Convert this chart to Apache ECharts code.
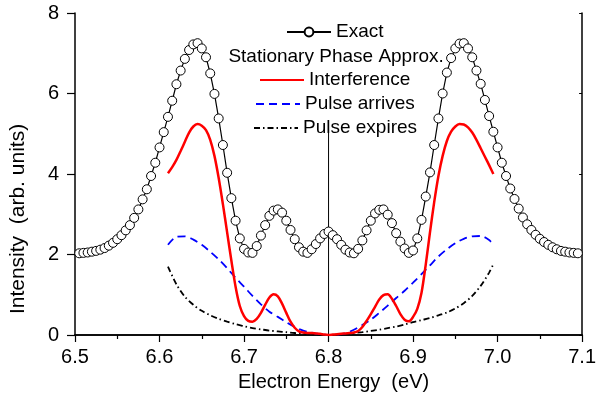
<!DOCTYPE html>
<html><head><meta charset="utf-8">
<script src="https://cdn.jsdelivr.net/npm/echarts@6/dist/echarts.min.js"></script>
<style>html,body{margin:0;padding:0;background:#fff}#c{width:599px;height:405px}</style>
</head><body><div id="c"></div>
<script>
// ---- data ----
const exactEnergy = [
6.505,6.510,6.515,6.520,6.525,6.530,6.535,6.540,6.545,6.550,
6.555,6.560,6.565,6.570,6.575,6.580,6.585,6.590,6.595,6.600,
6.605,6.610,6.615,6.620,6.625,6.630,6.635,6.640,6.645,
6.650,6.655,6.660,6.665,6.670,6.675,6.680,6.685,6.690,6.695,
6.700,6.705,6.710,6.715,6.720,6.725,6.730,6.735,6.740,6.745,
6.750,6.755,6.760,6.765,6.770,6.775,6.780,6.785,6.790,6.795,
6.800,6.805,6.810,6.815,6.820,6.825,6.830,6.835,6.840,6.845,
6.850,6.855,6.860,6.865,6.870,6.875,6.880,6.885,6.890,6.895,
6.900,6.905,6.910,6.915,6.920,6.925,6.930,6.935,6.940,6.945,
6.950,6.955,6.960,6.965,6.970,6.975,6.980,6.985,6.990,6.995,
7.000,7.005,7.010,7.015,7.020,7.025,7.030,7.035,7.040,7.045,
7.050,7.055,7.060,7.065,7.070,7.075,7.080,7.085,7.090,7.095];
const exactIntensity = [
2.03,2.04,2.05,2.07,2.09,2.12,2.16,2.22,2.29,2.38,
2.48,2.60,2.73,2.91,3.12,3.37,3.62,3.95,4.28,4.66,
5.04,5.42,5.82,6.23,6.57,6.86,7.08,7.22,7.25,
7.12,6.90,6.50,5.99,5.38,4.72,4.03,3.40,2.84,2.40,
2.14,2.05,2.04,2.21,2.47,2.73,2.96,3.09,3.12,3.04,
2.84,2.61,2.38,2.18,2.07,2.04,2.13,2.26,2.40,2.51,
2.57,2.48,2.38,2.24,2.12,2.05,2.03,2.14,2.35,2.60,
2.84,3.02,3.11,3.12,2.99,2.78,2.53,2.32,2.15,2.04,
2.10,2.40,2.86,3.44,4.04,4.72,5.38,6.00,6.52,6.88,
7.12,7.24,7.25,7.12,6.90,6.57,6.24,5.84,5.44,5.05,
4.66,4.28,3.95,3.64,3.38,3.14,2.92,2.75,2.61,2.49,
2.39,2.31,2.24,2.18,2.13,2.09,2.07,2.05,2.04,2.03];

const interfEnergy = [
6.610,6.615,6.620,6.625,6.630,6.635,6.640,6.645,6.650,6.655,
6.660,6.665,6.670,6.675,6.680,6.685,6.690,6.695,6.700,6.705,
6.710,6.715,6.720,6.725,6.730,6.735,6.740,6.745,6.750,6.755,
6.760,6.765,6.770,6.775,6.780,6.785,6.790,6.795,6.800,6.805,
6.810,6.815,6.820,6.825,6.830,6.835,6.840,6.845,6.850,6.855,
6.860,6.865,6.870,6.875,6.880,6.885,6.890,6.895,6.900,6.905,
6.910,6.915,6.920,6.925,6.930,6.935,6.940,6.945,6.950,6.955,
6.960,6.965,6.970,6.975,6.980,6.985,6.990,6.995];
const interfIntensity = [
4.02,4.17,4.35,4.57,4.80,5.03,5.18,5.24,5.20,5.09,
4.85,4.45,3.90,3.25,2.55,1.85,1.20,0.72,0.47,0.35,
0.33,0.40,0.55,0.75,0.93,1.01,0.96,0.78,0.55,0.33,
0.18,0.09,0.06,0.05,0.05,0.04,0.03,0.01,0.00,0.01,
0.02,0.03,0.04,0.05,0.06,0.10,0.20,0.35,0.52,0.70,
0.88,0.99,1.01,0.90,0.72,0.52,0.38,0.34,0.45,0.65,
1.05,1.75,2.55,3.30,3.95,4.45,4.82,5.05,5.18,5.24,
5.23,5.16,5.03,4.85,4.64,4.43,4.22,4.00];

const pulseEnergy = [
6.61,6.62,6.63,6.64,6.65,6.66,6.67,6.68,6.69,6.70,
6.71,6.72,6.73,6.74,6.75,6.76,6.77,6.78,6.79,6.80,
6.81,6.82,6.83,6.84,6.85,6.86,6.87,6.88,6.89,6.90,
6.91,6.92,6.93,6.94,6.95,6.96,6.97,6.98,6.99,6.995];
const arrivesIntensity = [
2.24,2.44,2.45,2.37,2.24,2.07,1.88,1.66,1.42,1.20,
0.97,0.76,0.58,0.45,0.32,0.20,0.11,0.06,0.02,0.00,
0.01,0.04,0.13,0.25,0.38,0.55,0.73,0.92,1.10,1.30,
1.51,1.73,1.95,2.13,2.28,2.39,2.45,2.46,2.36,2.24];
const expiresIntensity = [
1.70,1.26,0.95,0.75,0.60,0.49,0.40,0.33,0.27,0.22,
0.17,0.14,0.11,0.09,0.07,0.05,0.04,0.02,0.01,0.00,
0.01,0.03,0.05,0.07,0.10,0.13,0.17,0.21,0.26,0.32,
0.37,0.42,0.49,0.56,0.66,0.79,0.97,1.22,1.55,1.76];

const dividerEnergy = [6.8, 6.8];
const dividerIntensity = [0, 5.1];

const legendNames = ['Exact','Stationary Phase Approx.','Interference','Pulse arrives','Pulse expires'];

// ---- chart ----
const FONT = 'Liberation Sans, Arial, sans-serif';
const pairs = (xs, ys) => xs.map((x, i) => [x, ys[i]]);
const chart = echarts.init(document.getElementById('c'));

const legendPos = [
  {left: 286, top: 22},
  {left: 219, top: 47},
  {left: 259, top: 70},
  {left: 255, top: 94},
  {left: 253, top: 118}
];
const legends = legendNames.map((n, i) => {
  const item = {name: n};
  if (i === 1) { item.itemStyle = {opacity: 0}; item.lineStyle = {opacity: 0}; }
  if (i >= 2) { item.itemStyle = {color: 'rgba(0,0,0,0)', borderColor: 'rgba(0,0,0,0)', borderWidth: 0}; }
  return {
    data: [item], left: legendPos[i].left, top: legendPos[i].top, padding: 0,
    itemWidth: i === 1 ? 0 : 44, itemHeight: 11, selectedMode: false,
    textStyle: {fontFamily: FONT, fontSize: 19, color: '#000', lineHeight: 20}
  };
});

const axisCommon = {
  axisLine: {show: true, lineStyle: {color: '#000', width: 1.5}},
  splitLine: {show: false}
};

chart.setOption({
  animation: false,
  backgroundColor: '#fff',
  grid: {left: 74, right: 13, top: 13, bottom: 70, containLabel: false},
  legend: legends,
  xAxis: [
    Object.assign({
      type: 'value', min: 6.5, max: 7.1, interval: 0.1,
      axisTick: {show: true, inside: false, length: 7, lineStyle: {color: '#000', width: 1.2}},
      minorTick: {show: true, splitNumber: 2, length: 4, lineStyle: {color: '#000', width: 1.2}},
      axisLabel: {formatter: v => v.toFixed(1), fontFamily: FONT, fontSize: 20, color: '#000', margin: 12},
      name: 'Electron Energy  (eV)', nameLocation: 'middle', nameGap: 37,
      nameTextStyle: {fontFamily: FONT, fontSize: 20, color: '#000', padding: [0, 0, 0, 10]}
    }, axisCommon),
    Object.assign({
      type: 'value', min: 6.5, max: 7.1, interval: 0.1, position: 'top',
      axisTick: {show: true, inside: true, length: 3, lineStyle: {color: '#000'}},
      axisLabel: {show: false}
    }, axisCommon)
  ],
  yAxis: [
    Object.assign({
      type: 'value', min: 0, max: 8, interval: 2,
      axisTick: {show: true, inside: false, length: 8, lineStyle: {color: '#000', width: 1.2}},
      axisLabel: {fontFamily: FONT, fontSize: 20, color: '#000', margin: 16},
      name: 'Intensity  (arb. units)', nameLocation: 'middle', nameGap: 46,
      nameTextStyle: {fontFamily: FONT, fontSize: 21, color: '#000', padding: [0, 90, 0, 0]}
    }, axisCommon),
    Object.assign({
      type: 'value', min: 0, max: 8, interval: 2, position: 'right',
      axisTick: {show: true, inside: true, length: 3, lineStyle: {color: '#000'}},
      axisLabel: {show: false}
    }, axisCommon)
  ],
  series: [
    {
      name: 'divider', type: 'line', data: pairs(dividerEnergy, dividerIntensity),
      symbol: 'none', silent: true, lineStyle: {color: '#000', width: 1}, z: 1
    },
    {
      name: 'Stationary Phase Approx.', type: 'line', data: [],
      symbol: 'none', lineStyle: {opacity: 0}
    },
    {
      name: 'Pulse expires', type: 'line', data: pairs(pulseEnergy, expiresIntensity),
      smooth: 0.3, symbol: 'none',
      lineStyle: {color: '#000', width: 1.8, type: [6, 3, 1.5, 3]}, itemStyle: {color: '#000'}
    },
    {
      name: 'Pulse arrives', type: 'line', data: pairs(pulseEnergy, arrivesIntensity),
      smooth: 0.3, symbol: 'none',
      lineStyle: {color: '#0000ff', width: 1.8, type: [8, 5]}, itemStyle: {color: '#0000ff'}
    },
    {
      name: 'Interference', type: 'line', data: pairs(interfEnergy, interfIntensity),
      smooth: 0.3, symbol: 'none',
      lineStyle: {color: '#ff0000', width: 2.5}, itemStyle: {color: '#ff0000'}
    },
    {
      name: 'Exact', type: 'line', data: pairs(exactEnergy, exactIntensity),
      symbol: 'circle', symbolSize: 9, showSymbol: true,
      lineStyle: {color: '#000', width: 1.2},
      itemStyle: {color: '#fff', borderColor: '#000', borderWidth: 1}, z: 5
    }
  ]
});
</script>
</body></html>
